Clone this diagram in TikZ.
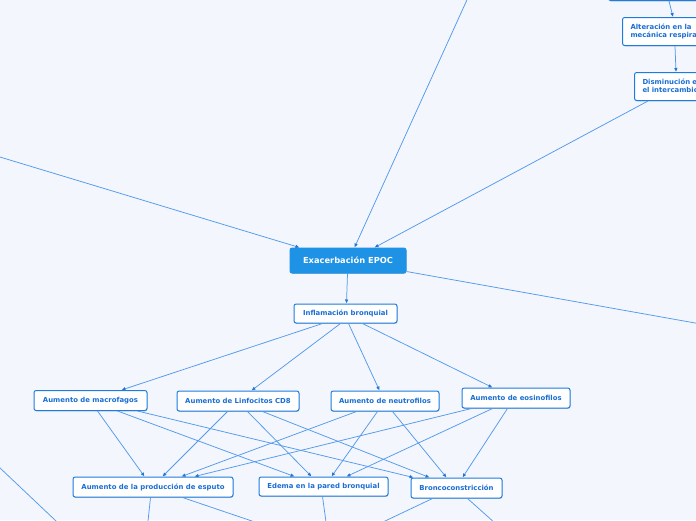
\documentclass[tikz,border=0pt]{standalone}
\usepackage{fontspec}
\setmainfont{DejaVu Sans}
\usetikzlibrary{arrows.meta,shadows}
\definecolor{bgc}{RGB}{243,246,253}
\definecolor{edgec}{RGB}{84,154,236}
\definecolor{tipc}{RGB}{36,116,214}
\definecolor{borderc}{RGB}{30,124,222}
\definecolor{textc}{RGB}{26,110,212}
\definecolor{mainfill}{RGB}{30,146,228}
\tikzset{
  box/.style={draw=borderc, line width=1pt, rounded corners=2.2pt, fill=white,
    text=textc, inner sep=0pt, font=\bfseries\fontsize{6.9}{8.2}\selectfont,
    drop shadow={shadow xshift=0.4pt, shadow yshift=-0.9pt, opacity=0.25, fill=black!70}},
  mainbox/.style={box, fill=mainfill, draw=mainfill, text=white,
    font=\bfseries\fontsize{8.3}{10}\selectfont},
  wbox/.style={box, anchor=north west, align=left, text width=#1},
  link/.style={draw=edgec, line width=0.75pt},
  arr/.style={link, -{Latex[length=4pt,width=3.6pt,color=tipc]}}
}
\begin{document}
\begin{tikzpicture}[x=1pt,y=-1pt]
\fill[bgc] (0,0) rectangle (696,520);
\useasboundingbox (0,0) rectangle (696,520);
\clip (0,0) rectangle (696,520);

% nodes
\node[mainbox, minimum width=116pt, minimum height=25pt] (exac) at (348,260.5) {Exacerbación EPOC};
\node[box, minimum width=103pt, minimum height=19pt] (infl) at (345.5,313.5) {Inflamación bronquial};
\node[box, minimum width=113pt, minimum height=20pt] (macro) at (90.5,400.5) {Aumento de macrofagos};
\node[box, minimum width=122pt, minimum height=20pt] (linf) at (238,401) {Aumento de Linfocitos CD8};
\node[box, minimum width=108pt, minimum height=20pt] (neut) at (385,401) {Aumento de neutrofilos};
\node[box, minimum width=108pt, minimum height=20pt] (eosi) at (516,398) {Aumento de eosinofilos};
\node[box, minimum width=160pt, minimum height=20pt] (esp) at (153,487) {Aumento de la producción de esputo};
\node[box, minimum width=129pt, minimum height=19pt] (edema) at (323.5,486.5) {Edema en la pared bronquial};
\node[box, minimum width=91pt, minimum height=20pt] (bronco) at (456.5,488) {Broncoconstricción};

% top-right partially visible nodes
\node[box, minimum width=150pt, minimum height=30pt, anchor=south west] (top) at (608,1) {};
\node[wbox=100pt, minimum height=28pt, inner xsep=8pt, inner ysep=5pt] (alt) at (622,17)
  {Alteración en la\\mecánica respiratoria};
\node[wbox=100pt, minimum height=28pt, inner xsep=8pt, inner ysep=5pt] (dism) at (634,72)
  {Disminución en\\el intercambio gaseoso};

% free ends outside the frame
\coordinate (leftin) at (-20,151);
\coordinate (topin) at (476,-20);
\coordinate (rightout) at (740,331);
\coordinate (lowleftA) at (-20,449);
\coordinate (lowleftB) at (75,539);
\coordinate (o1) at (146,540);
\coordinate (o2) at (308,540);
\coordinate (o3) at (328.5,540);
\coordinate (o4) at (345,540);
\coordinate (o5) at (514,540);

% top-right chain
\draw[arr] ([xshift=61pt]top.south west) -- ([xshift=51pt]alt.north west);
\draw[arr] ([xshift=53pt]alt.south west) -- ([xshift=42pt]dism.north west);
\draw[arr] ([xshift=14pt]dism.south west) -- ([xshift=85pt]exac.north west);

% into / out of the main node
\draw[arr] (leftin) -- ([xshift=10pt]exac.north west);
\draw[arr] (topin) -- ([xshift=65pt]exac.north west);
\draw[link] ([yshift=2pt]exac.south east) -- (rightout);
\draw[link] (lowleftA) -- (lowleftB);
\draw[arr] ([xshift=58pt]exac.south west) -- ([xshift=53pt]infl.north west);

% inflammation to cells
\draw[arr] ([xshift=29pt]infl.south west) -- ([xshift=88pt]macro.north west);
\draw[arr] ([xshift=47pt]infl.south west) -- ([xshift=75pt]linf.north west);
\draw[arr] ([xshift=55pt]infl.south west) -- ([xshift=49pt]neut.north west);
\draw[arr] ([xshift=69pt]infl.south west) -- ([xshift=31pt]eosi.north west);

% cells to effects
\draw[arr] ([xshift=64pt]macro.south west) -- ([xshift=72pt]esp.north west);
\draw[arr] ([xshift=84pt]macro.south west) -- ([xshift=36pt]edema.north west);
\draw[arr] ([xshift=104pt]macro.south west) -- ([xshift=3pt]bronco.north west);

\draw[arr] ([xshift=51pt]linf.south west) -- ([xshift=90pt]esp.north west);
\draw[arr] ([xshift=71pt]linf.south west) -- ([xshift=53pt]edema.north west);
\draw[arr] ([xshift=86pt]linf.south west) -- ([xshift=19pt]bronco.north west);

\draw[arr] ([xshift=26pt]neut.south west) -- ([xshift=109pt]esp.north west);
\draw[arr] ([xshift=47pt]neut.south west) -- ([xshift=73pt]edema.north west);
\draw[arr] ([xshift=62pt]neut.south west) -- ([xshift=36pt]bronco.north west);

\draw[arr] ([xshift=10pt]eosi.south west) -- ([xshift=122pt]esp.north west);
\draw[arr] ([xshift=31pt]eosi.south west) -- ([xshift=88pt]edema.north west);
\draw[arr] ([xshift=46pt]eosi.south west) -- ([xshift=52pt]bronco.north west);

% effects going further down
\draw[link] ([xshift=78pt]esp.south west) -- (o1);
\draw[link] ([xshift=110pt]esp.south west) -- (o2);
\draw[link] ([xshift=64pt]edema.south west) -- (o3);
\draw[link] ([xshift=22pt]bronco.south west) -- (o4);
\draw[link] ([xshift=57pt]bronco.south west) -- (o5);
\end{tikzpicture}
\end{document}
